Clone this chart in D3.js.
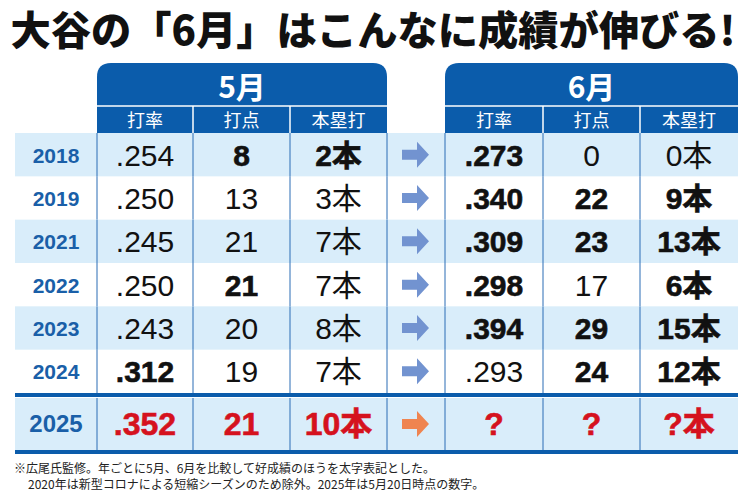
<!DOCTYPE html>
<html><head><meta charset="utf-8">
<script src="https://cdn.jsdelivr.net/npm/d3@7"></script>
<style>body{margin:0;background:#fff}</style>
</head><body>
<svg width="750" height="500"></svg>
<script>
var years = ["2018", "2019", "2021", "2022", "2023", "2024", "2025"];
var mayAvg = [".254", ".250", ".245", ".250", ".243", ".312", ".352"];
var mayRbi = ["8", "13", "21", "21", "20", "19", "21"];
var mayHr = ["2本", "3本", "7本", "7本", "8本", "7本", "10本"];
var junAvg = [".273", ".340", ".309", ".298", ".394", ".293", "?"];
var junRbi = ["0", "22", "23", "17", "29", "24", "?"];
var junHr = ["0本", "9本", "13本", "6本", "15本", "12本", "?本"];
// bold flags per row: [mayAvg, mayRbi, mayHr, junAvg, junRbi, junHr]
var boldFlags = [
  [0,1,1,1,0,0],
  [0,0,0,1,1,1],
  [0,0,0,1,1,1],
  [0,1,0,1,0,1],
  [0,0,0,1,1,1],
  [1,0,0,0,1,1],
  [1,1,1,1,1,1]
];
var subHeads = ["打率", "打点", "本塁打"];

var svg = d3.select("svg");
var font = "'Noto Sans CJK JP', sans-serif";
var blue = "#0b5cab", light = "#d9edfa";

svg.append("text").attr("x", 373).attr("y", 45).attr("text-anchor", "middle")
  .attr("font-family", font).attr("font-weight", 900).attr("font-size", 40)
  .attr("fill", "#111").attr("textLength", 725).attr("lengthAdjust", "spacingAndGlyphs")
  .text("大谷の「6月」はこんなに成績が伸びる!");

// columns: year, 3 May, arrow, 3 June
var colEdges = [15, 97, 193, 290, 387, 445, 543, 640, 738];
var y = d3.scaleBand().domain(years.slice(0, 6)).range([133, 393]);
var rowY = function(i) { return i < 6 ? y(years[i]) : 398; };
var rowH = function(i) { return i < 6 ? y.bandwidth() : 52; };

// header boxes
[[97, 387, "5月"], [445, 738, "6月"]].forEach(function(h, k) {
  var x0 = h[0], x1 = h[1], r = 14;
  svg.append("path").attr("fill", blue)
    .attr("d", "M" + x0 + ",133V" + (63 + r) + "Q" + x0 + ",63 " + (x0 + r) + ",63H" + (x1 - r) +
      "Q" + x1 + ",63 " + x1 + "," + (63 + r) + "V133Z");
  svg.append("text").attr("x", (x0 + x1) / 2).attr("y", 98).attr("text-anchor", "middle")
    .attr("font-family", font).attr("font-weight", 700).attr("font-size", 30).attr("fill", "#fff").text(h[2]);
  svg.append("line").attr("x1", x0).attr("x2", x1).attr("y1", 106).attr("y2", 106)
    .attr("stroke", "#fff").attr("stroke-width", 1.5);
  subHeads.forEach(function(s, j) {
    var c = k * 4 + 1 + j;
    if (j > 0) svg.append("line").attr("x1", colEdges[c]).attr("x2", colEdges[c])
      .attr("y1", 106).attr("y2", 133).attr("stroke", "#fff").attr("stroke-width", 1.5);
    svg.append("text").attr("x", (colEdges[c] + colEdges[c + 1]) / 2).attr("y", 127)
      .attr("text-anchor", "middle").attr("font-family", font).attr("font-size", 18)
      .attr("fill", "#fff").text(s);
  });
});

// rows
years.forEach(function(yr, i) {
  var top = rowY(i), h = rowH(i), cy = top + h / 2;
  if (i % 2 === 0) svg.append("rect").attr("x", colEdges[0]).attr("y", top)
    .attr("width", colEdges[8] - colEdges[0]).attr("height", h).attr("fill", light);
  svg.append("text").attr("x", 56).attr("y", cy + 8).attr("text-anchor", "middle")
    .attr("font-family", "'Liberation Sans', sans-serif").attr("font-weight", "bold")
    .attr("font-size", i === 6 ? 24 : 21).attr("fill", "#1a5fa8").text(yr);
  var vals = [mayAvg[i], mayRbi[i], mayHr[i], junAvg[i], junRbi[i], junHr[i]];
  var cols = [1, 2, 3, 5, 6, 7];
  vals.forEach(function(v, j) {
    var c = cols[j], b = boldFlags[i][j];
    svg.append("text").attr("x", (colEdges[c] + colEdges[c + 1]) / 2).attr("y", cy + 11)
      .attr("text-anchor", "middle").attr("font-family", "'Liberation Sans', 'Noto Sans CJK JP', sans-serif")
      .attr("font-weight", b ? 700 : 400).attr("font-size", i === 6 ? 32 : 30)
      .attr("fill", i === 6 ? "#d5121e" : "#111")
      .attr("stroke", b ? (i === 6 ? "#d5121e" : "#111") : "none").attr("stroke-width", b ? 0.6 : 0)
      .text(v);
  });
  // arrow
  var ax = 402, ac = i === 6 ? "#ef8450" : "#7293d0";
  svg.append("path").attr("fill", ac)
    .attr("d", "M" + ax + "," + (cy - 5) + "h15v-8l12,13l-12,13v-8h-15z");
  // vertical lines
  colEdges.slice(1, 8).forEach(function(x) {
    svg.append("line").attr("x1", x).attr("x2", x).attr("y1", top).attr("y2", top + h)
      .attr("stroke", "#2a6cb5").attr("stroke-width", 1);
  });
});
[395, 452].forEach(function(ly) {
  svg.append("line").attr("x1", 15).attr("x2", 738).attr("y1", ly).attr("y2", ly)
    .attr("stroke", blue).attr("stroke-width", 4);
});

var notes = ["※広尾氏監修。年ごとに5月、6月を比較して好成績のほうを太字表記とした。",
  "2020年は新型コロナによる短縮シーズンのため除外。2025年は5月20日時点の数字。"];
notes.forEach(function(n, i) {
  svg.append("text").attr("x", i ? 28 : 14).attr("y", 473 + i * 16)
    .attr("font-family", font).attr("font-size", 12).attr("fill", "#222").text(n);
});
</script>
</body></html>
